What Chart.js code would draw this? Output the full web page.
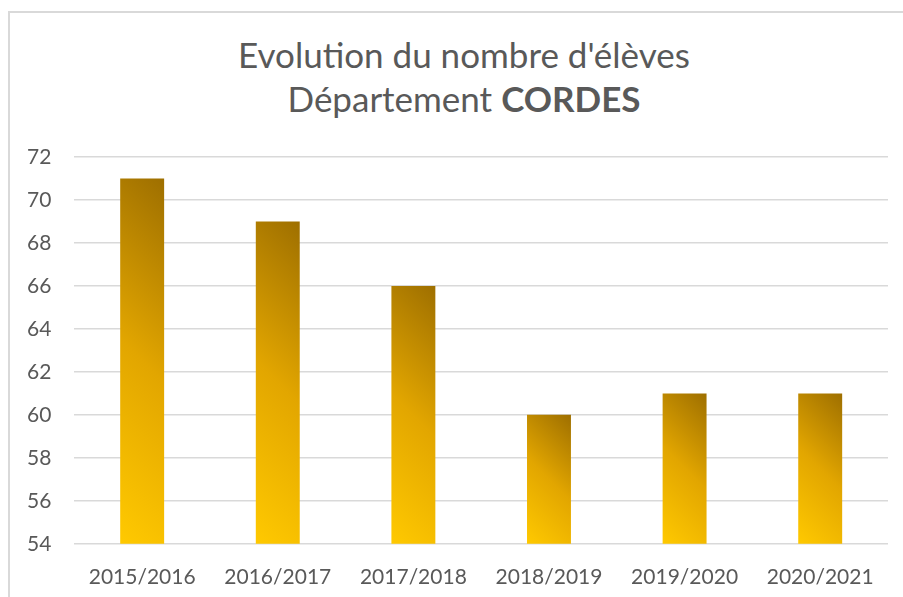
<!DOCTYPE html>
<html lang="fr">
<head>
<meta charset="utf-8">
<title>Evolution du nombre d'élèves</title>
<script src="https://cdn.jsdelivr.net/npm/chart.js@4.4.1/dist/chart.umd.min.js"></script>
<style>
    html, body { margin: 0; padding: 0; background: #fff; overflow: hidden; }
    body { width: 903px; height: 597px; position: relative; }
    #frame {
        position: absolute; left: 8px; top: 11px;
        width: 1000px; height: 1000px;
        border: 2px solid #d9d9d9;
    }
    #titre {
        position: absolute; left: 0; top: 32px; width: 928px;
        text-align: center;
        font-family: Lato, sans-serif; font-size: 35px; line-height: 44px;
        color: #595959;
    }
    #titre b { font-weight: 700; }
    #graph { position: absolute; left: 0; top: 0; }
</style>
</head>
<body>
<div id="frame"></div>
<div id="titre">Evolution du nombre d'élèves<br>Département <b>CORDES</b></div>
<canvas id="graph" width="903" height="597"></canvas>

<script>
"use strict";

// années scolaires et nombre d'élèves
const annees = ["2015/2016", "2016/2017", "2017/2018", "2018/2019", "2019/2020", "2020/2021"];
const eleves = [71, 69, 66, 60, 61, 61];

// axe vertical
const yMin = 54;
const yMax = 72;
const yPas = 2;

const barPct = 0.324;

/**
 * Dégradé doré pour chaque barre, en diagonale (clair en bas à gauche, foncé en haut à droite).
 */
function degrade(ctx) {
    const chart = ctx.chart;
    const xs = chart.scales.x;
    const ys = chart.scales.y;
    if (ctx.type !== "data" || !xs || !ys || !chart.chartArea) {
        return "#e2a600";
    }
    const cx = xs.getPixelForValue(ctx.dataIndex);
    const top = ys.getPixelForValue(eleves[ctx.dataIndex]);
    const bottom = ys.getPixelForValue(yMin);
    const w = (xs.width / annees.length) * barPct;
    const left = cx - w / 2;
    const h = bottom - top;
    const d = (w + h) / 2;
    const g = chart.ctx.createLinearGradient(left, bottom, left + d, bottom - d);
    g.addColorStop(0, "#ffc900");
    g.addColorStop(0.5, "#e2a600");
    g.addColorStop(1, "#9e6f00");
    return g;
}

const police = { family: "Lato, sans-serif", size: 21 };

new Chart(document.getElementById("graph"), {
    type: "bar",
    data: {
        labels: annees,
        datasets: [{
            label: "Nombre d'élèves",
            data: eleves,
            backgroundColor: degrade,
            borderWidth: 0,
            categoryPercentage: 1,
            barPercentage: barPct
        }]
    },
    options: {
        responsive: false,
        animation: false,
        devicePixelRatio: 1,
        layout: {
            padding: { left: 4, right: 15, top: 157, bottom: -14 }
        },
        plugins: {
            legend: { display: false },
            tooltip: { enabled: false },
            title: { display: false }
        },
        scales: {
            x: {
                grid: { display: false, drawTicks: false },
                border: { display: false },
                ticks: { color: "#595959", font: police, padding: 21, maxRotation: 0 }
            },
            y: {
                min: yMin,
                max: yMax,
                grid: { color: "#d9d9d9", lineWidth: 1.5, drawTicks: false },
                border: { display: false },
                ticks: { stepSize: yPas, color: "#595959", font: police, padding: 23 }
            }
        }
    }
});
</script>
</body>
</html>
